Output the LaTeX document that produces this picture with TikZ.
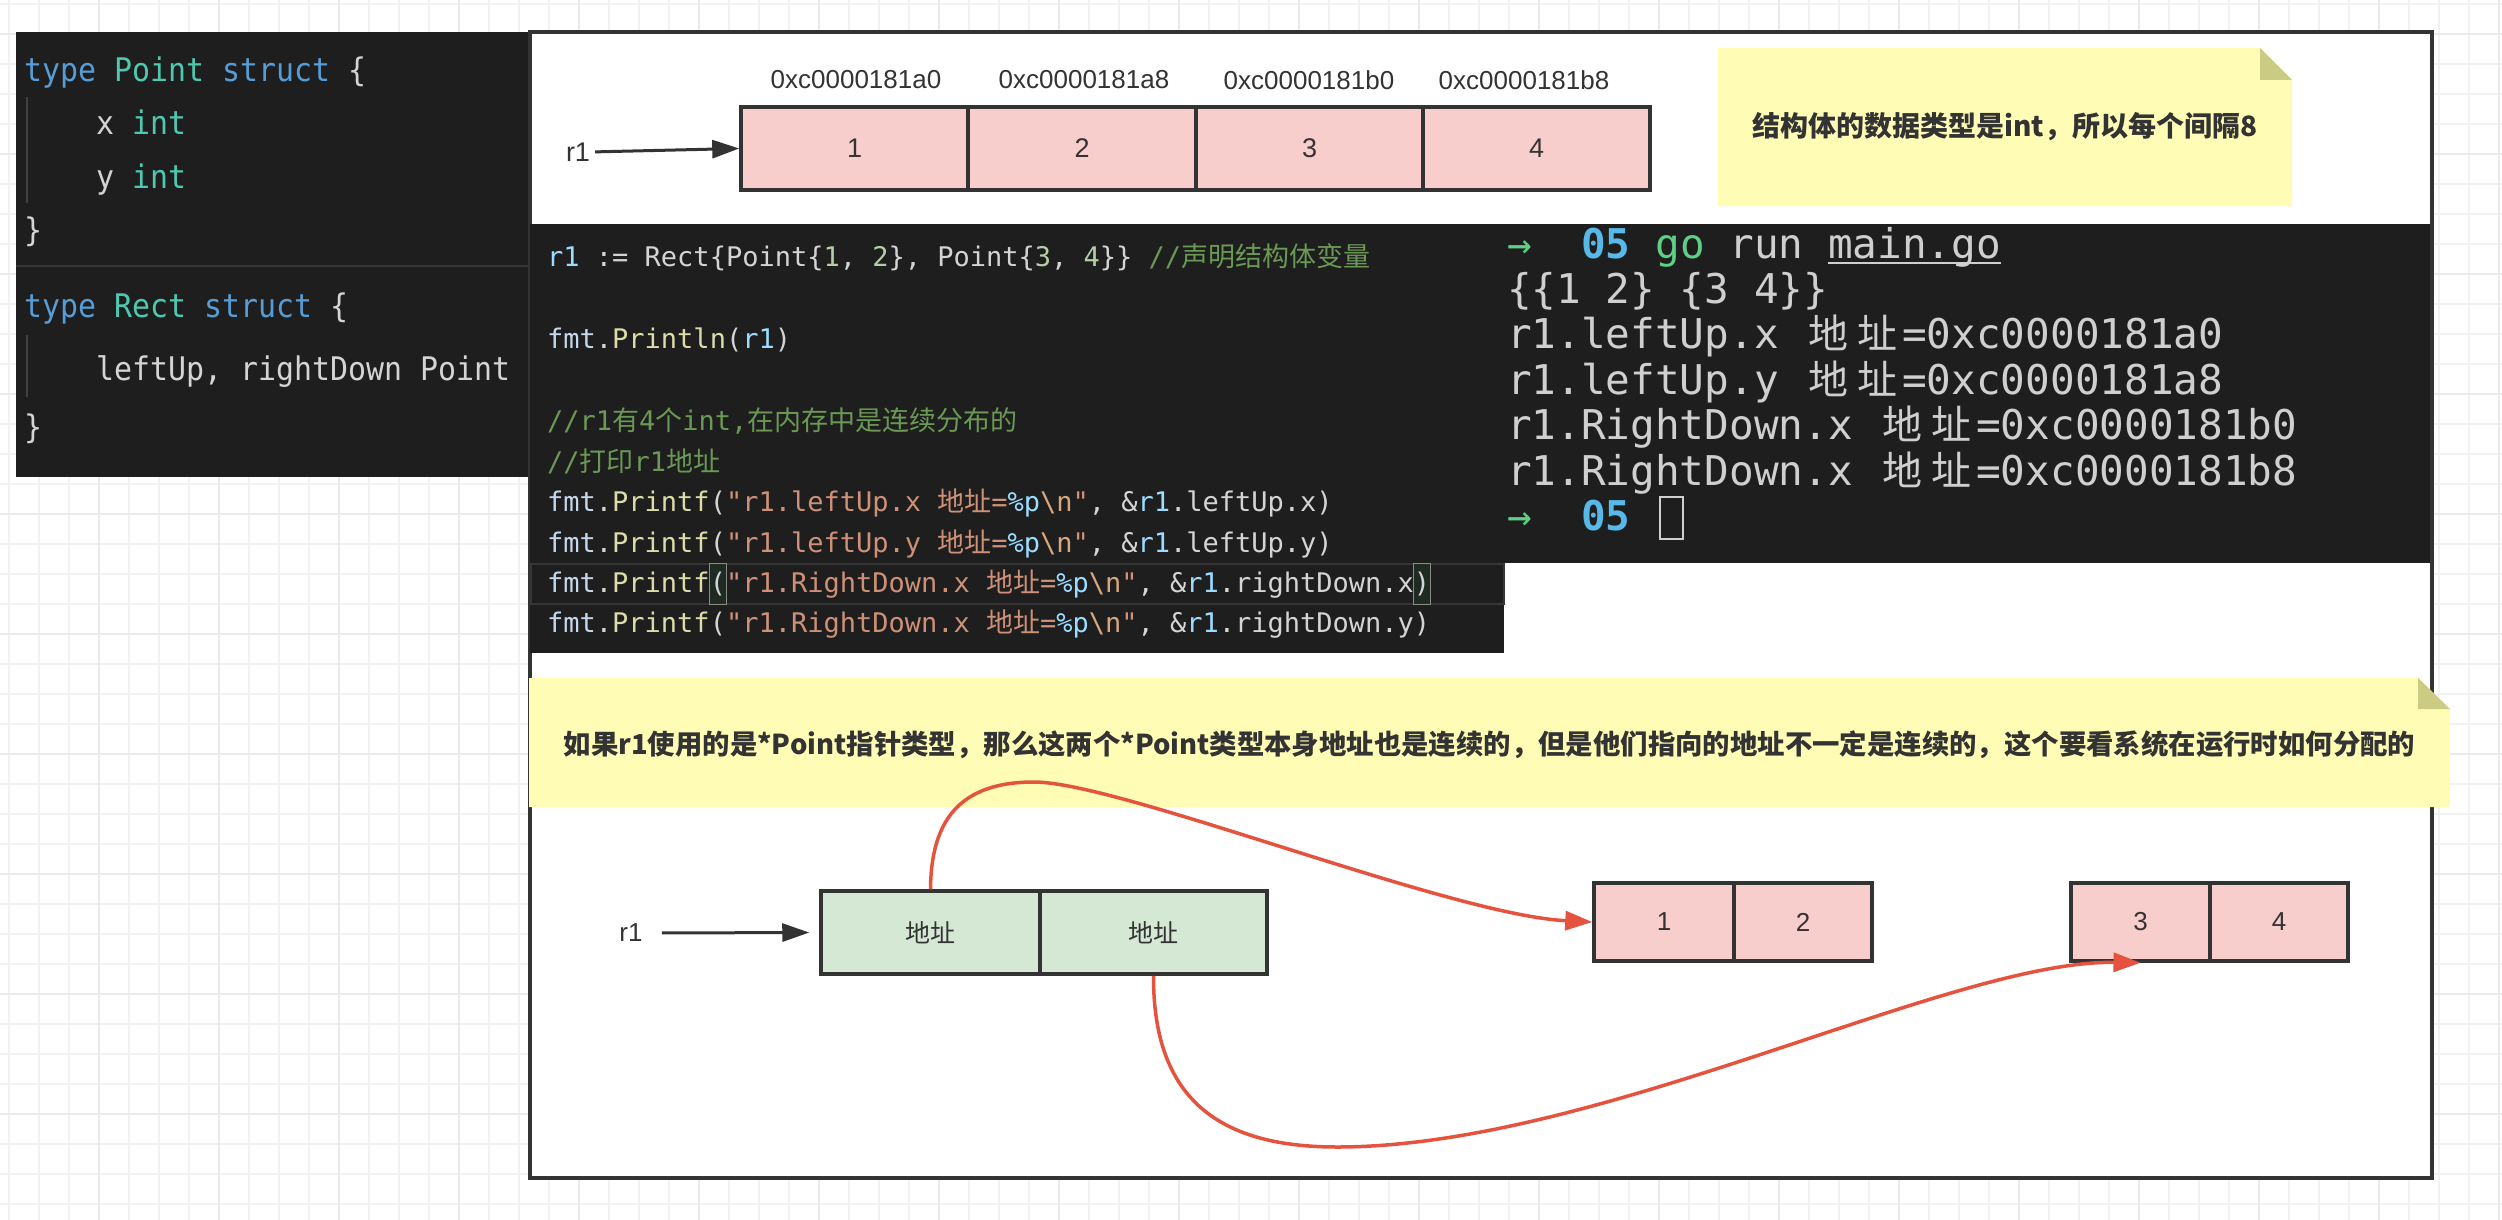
\documentclass[tikz,border=0pt]{standalone}
\usepackage{fontspec}
\usetikzlibrary{arrows.meta}
\newfontfamily\monof{DejaVu Sans Mono}
\newfontfamily\monoc{DejaVu Sans Mono}[FakeStretch=0.92]
\newfontfamily\cjkf{Noto Sans CJK SC}
\newfontfamily\labf{Liberation Sans}
\definecolor{codebg}{HTML}{1E1E1E}
\definecolor{kw}{HTML}{569CD6}
\definecolor{ty}{HTML}{4EC9B0}
\definecolor{plain}{HTML}{D4D4D4}
\definecolor{var}{HTML}{9CDCFE}
\definecolor{fn}{HTML}{DCDCAA}
\definecolor{str}{HTML}{CE9178}
\definecolor{num}{HTML}{B5CEA8}
\definecolor{cmt}{HTML}{6A9955}
\definecolor{esc}{HTML}{D7A77D}
\definecolor{fmtc}{HTML}{C5D7EA}
\definecolor{guide}{HTML}{404040}
\definecolor{hline}{HTML}{363636}
\definecolor{brkc}{HTML}{8A8A8A}
\definecolor{brkbg}{HTML}{1F2A22}
\definecolor{tgreen}{HTML}{5FCF85}
\definecolor{tblue}{HTML}{58B9E8}
\definecolor{tgray}{HTML}{CFCFCF}
\definecolor{gridc}{HTML}{F2F2F2}
\definecolor{gridm}{HTML}{EAEAEA}
\definecolor{framec}{HTML}{333333}
\definecolor{cellline}{HTML}{333333}
\definecolor{labtext}{HTML}{333333}
\definecolor{pinkc}{HTML}{F8CECC}
\definecolor{greenc}{HTML}{D5E8D4}
\definecolor{notec}{HTML}{FFFCB5}
\definecolor{foldc}{HTML}{CCCB84}
\definecolor{redc}{HTML}{E5533F}
\newcommand\zh[1]{{\cjkf #1}}
\newcommand\tcj[1]{\makebox[49.4pt][c]{\cjkf\fontsize{40}{45}\selectfont #1}}
\newcommand\brk[1]{\kern-1.2pt{\fboxsep=0pt\fboxrule=1.2pt\fcolorbox{brkc}{brkbg}{\strut#1}}\kern-1.2pt}
\begin{document}
\begin{tikzpicture}[x=1pt,y=-1pt,
  lcode/.style={anchor=base west, inner sep=0pt, text=plain, font=\monoc\fontsize{32.5}{40}\selectfont},
  mcode/.style={anchor=base west, inner sep=0pt, text=plain, font=\monof\fontsize{27}{40}\selectfont},
  tcode/.style={anchor=base west, inner sep=0pt, text=tgray, font=\monof\fontsize{41}{45}\selectfont},
  cell/.style={draw=cellline, line width=3.5pt, inner sep=0pt, text=labtext, font=\labf\fontsize{27}{30}\selectfont},
  addr/.style={inner sep=0pt, text=labtext, font=\labf\fontsize{26}{30}\selectfont},
  lab/.style={inner sep=0pt, text=labtext, font=\labf\fontsize{27}{30}\selectfont},
  notetext/.style={inner sep=0pt, text=labtext, font=\cjkf\bfseries\fontsize{28}{34}\selectfont},
  blkarrow/.style={draw=framec, line width=3pt, -{Triangle[length=27pt,width=18pt]}},
  redarrow/.style={draw=redc, line width=3.5pt, -{Triangle[length=27pt,width=19pt]}}
]
\useasboundingbox (0,0) rectangle (2502,1220);
\fill[white] (0,0) rectangle (2502,1220);
% grid
\foreach \i in {0,...,83} \draw[gridc, line width=1.5pt] ({9+30*\i},0) -- ({9+30*\i},1220);
\foreach \i in {0,...,40} \draw[gridc, line width=1.5pt] (0,{4+30*\i}) -- (2502,{4+30*\i});
\foreach \i in {0,...,20} \draw[gridm, line width=1.5pt] ({99+120*\i},0) -- ({99+120*\i},1220);
\foreach \i in {0,...,10} \draw[gridm, line width=1.5pt] (0,{34+120*\i}) -- (2502,{34+120*\i});

% main frame
\draw[framec, fill=white, line width=4pt] (530,32) rectangle (2432,1178);

% left code panel
\fill[codebg] (16,32) rectangle (528,477);
\draw[hline, line width=1.5pt] (16,266) -- (528,266);
\draw[guide, line width=1.2pt] (27,97) -- (27,203);
\draw[guide, line width=1.2pt] (27,335) -- (27,397);
\node[lcode] (l1) at (24,82) {\textcolor{kw}{type} \textcolor{ty}{Point} \textcolor{kw}{struct} \{};
\node[lcode] (l2) at (96,135) {x \textcolor{ty}{int}};
\node[lcode] (l3) at (96,188) {y \textcolor{ty}{int}};
\node[lcode] (l4) at (24,241) {\}};
\node[lcode] (l5) at (24,317) {\textcolor{kw}{type} \textcolor{ty}{Rect} \textcolor{kw}{struct} \{};
\node[lcode] (l6) at (96,380) {leftUp, rightDown Point};
\node[lcode] (l7) at (24,438) {\}};

% middle code panel
\fill[codebg] (530,224) rectangle (1504,653);
\draw[hline, line width=1.5pt] (531,564) rectangle (1504,604);
\node[mcode] (c1) at (547,266) {\textcolor{var}{r1} := Rect\{Point\{\textcolor{num}{1}, \textcolor{num}{2}\}, Point\{\textcolor{num}{3}, \textcolor{num}{4}\}\} \textcolor{cmt}{//\zh{声明结构体变量}}};
\node[mcode] (c2) at (547,348) {\textcolor{fmtc}{fmt}.\textcolor{fn}{Println}(\textcolor{var}{r1})};
\node[mcode] (c3) at (547,430) {\textcolor{cmt}{//r1\zh{有}4\zh{个}int,\zh{在内存中是连续分布的}}};
\node[mcode] (c4) at (547,471) {\textcolor{cmt}{//\zh{打印}r1\zh{地址}}};
\node[mcode] (c5) at (547,511) {\textcolor{fmtc}{fmt}.\textcolor{fn}{Printf}(\textcolor{str}{"r1.leftUp.x \zh{地址}=}\textcolor{var}{\%p}\textcolor{esc}{\textbackslash n}\textcolor{str}{"}, \&\textcolor{var}{r1}.leftUp.x)};
\node[mcode] (c6) at (547,552) {\textcolor{fmtc}{fmt}.\textcolor{fn}{Printf}(\textcolor{str}{"r1.leftUp.y \zh{地址}=}\textcolor{var}{\%p}\textcolor{esc}{\textbackslash n}\textcolor{str}{"}, \&\textcolor{var}{r1}.leftUp.y)};
\node[mcode] (c7) at (547,592) {\textcolor{fmtc}{fmt}.\textcolor{fn}{Printf}\brk{(}\textcolor{str}{"r1.RightDown.x \zh{地址}=}\textcolor{var}{\%p}\textcolor{esc}{\textbackslash n}\textcolor{str}{"}, \&\textcolor{var}{r1}.rightDown.x\brk{)}};
\node[mcode] (c8) at (547,632) {\textcolor{fmtc}{fmt}.\textcolor{fn}{Printf}(\textcolor{str}{"r1.RightDown.x \zh{地址}=}\textcolor{var}{\%p}\textcolor{esc}{\textbackslash n}\textcolor{str}{"}, \&\textcolor{var}{r1}.rightDown.y)};

% terminal
\fill[codebg] (1504,224) rectangle (2430,563);
\node[tcode] (t1) at (1507,258) {\textcolor{tgreen}{→}\ \ \textcolor{tblue}{\bfseries 05}\ \textcolor{tgreen}{go}\ run\ \rlap{\rule[-6pt]{172.8pt}{2pt}}main.go};
\node[tcode] (t2) at (1507,303) {\{\{1 2\} \{3 4\}\}};
\node[tcode] (t3) at (1507,348) {r1.leftUp.x \tcj{地}\tcj{址}=0xc0000181a0};
\node[tcode] (t4) at (1507,394) {r1.leftUp.y \tcj{地}\tcj{址}=0xc0000181a8};
\node[tcode] (t5) at (1507,439) {r1.RightDown.x \tcj{地}\tcj{址}=0xc0000181b0};
\node[tcode] (t6) at (1507,485) {r1.RightDown.x \tcj{地}\tcj{址}=0xc0000181b8};
\node[tcode] (t7) at (1507,530) {\textcolor{tgreen}{→}\ \ \textcolor{tblue}{\bfseries 05}};
\draw[tgray, line width=2pt] (1660,497) rectangle (1683,539);

% top memory layout
\node[addr] (a1) at (856,80) {0xc0000181a0};
\node[addr] (a2) at (1084,80) {0xc0000181a8};
\node[addr] (a3) at (1309,80) {0xc0000181b0};
\node[addr] (a4) at (1524,80) {0xc0000181b8};
\node[cell, fill=pinkc, minimum width=227pt, minimum height=83pt] (m1) at (854.5,148.5) {1};
\node[cell, fill=pinkc, minimum width=228pt, minimum height=83pt] (m2) at (1082,148.5) {2};
\node[cell, fill=pinkc, minimum width=227pt, minimum height=83pt] (m3) at (1309.5,148.5) {3};
\node[cell, fill=pinkc, minimum width=227pt, minimum height=83pt] (m4) at (1536.5,148.5) {4};
\node[lab] (r1a) at (578,152) {r1};
\draw[blkarrow, shorten <=5pt] (r1a.east) -- (m1.west);

% top note
\fill[notec] (1718,48) -- (2260,48) -- (2292,80) -- (2292,206) -- (1718,206) -- cycle;
\fill[foldc] (2260,48) -- (2260,80) -- (2292,80) -- cycle;
\node[notetext] (n1) at (2005,127) {结构体的数据类型是int，所以每个间隔8};

% bottom note
\fill[notec] (529,678) -- (2418,678) -- (2450,709) -- (2450,807) -- (529,807) -- cycle;
\fill[foldc] (2418,678) -- (2418,709) -- (2450,709) -- cycle;
\node[notetext, font=\cjkf\bfseries\fontsize{27.4}{34}\selectfont] (n2) at (1489.5,745) {如果r1使用的是*Point指针类型，那么这两个*Point类型本身地址也是连续的，但是他们指向的地址不一定是连续的，这个要看系统在运行时如何分配的};

% bottom diagram
\node[cell, fill=greenc, minimum width=219pt, minimum height=83pt, font=\cjkf\fontsize{25}{30}\selectfont] (g1) at (930.5,932.5) {地址};
\node[cell, fill=greenc, minimum width=227pt, minimum height=83pt, font=\cjkf\fontsize{25}{30}\selectfont] (g2) at (1153.5,932.5) {地址};
\node[cell, fill=pinkc, minimum width=140pt, minimum height=78pt, font=\labf\fontsize{26}{30}\selectfont] (p1) at (1664,922) {1};
\node[cell, fill=pinkc, minimum width=138pt, minimum height=78pt, font=\labf\fontsize{26}{30}\selectfont] (p2) at (1803,922) {2};
\node[cell, fill=pinkc, minimum width=139pt, minimum height=78pt, font=\labf\fontsize{26}{30}\selectfont] (p3) at (2140.5,922) {3};
\node[cell, fill=pinkc, minimum width=138pt, minimum height=78pt, font=\labf\fontsize{26}{30}\selectfont] (p4) at (2279,922) {4};
\node[lab, font=\labf\fontsize{26}{30}\selectfont] (r1b) at (631,933) {r1};
\draw[blkarrow, shorten <=19pt, shorten >=10pt] (r1b.east) -- (g1.west);

\draw[redarrow] (g1.north) .. controls (931,820) and (960,782) .. (1034,782) .. controls (1120,782) and (1450,915) .. (p1.west);
\draw[redarrow] (g2.south) .. controls (1153,1100) and (1220,1147) .. (1337,1147) .. controls (1600,1147) and (1950,960) .. (p3.south);
\end{tikzpicture}
\end{document}
